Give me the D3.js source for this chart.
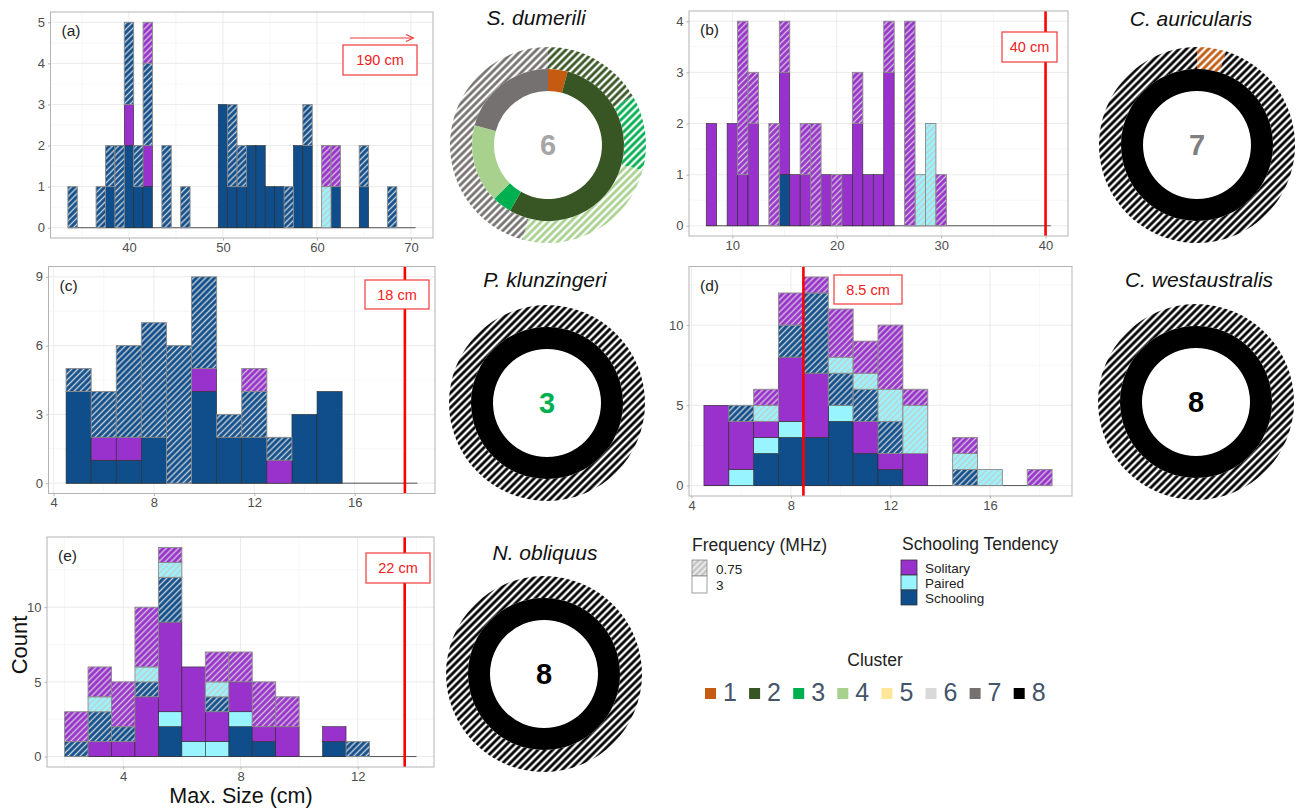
<!DOCTYPE html>
<html>
<head>
<meta charset="utf-8">
<script src="https://cdn.jsdelivr.net/npm/d3@7"></script>
<style>
  body { margin: 0; background: #fff; }
  svg { display: block; font-family: "Liberation Sans", Arial, sans-serif; }
</style>
</head>
<body>
<script>
// bin centres + counts per bin, stacked bottom-up:
// solid (3 MHz): schooling, paired, solitary ; hatched (0.75 MHz): schooling, paired, solitary
const aBins        = [34,37,38,39,40,41,42,44,46,50,51,52,53,54,55,56,57,58,59,61,62,65,68];
const aSchool3     = [0,0,1,0,2,1,1,0,0,3,1,1,2,2,1,1,0,2,2,0,1,1,0];
const aPaired3     = [0,0,0,0,0,0,0,0,0,0,0,0,0,0,0,0,0,0,0,0,0,0,0];
const aSolitary3   = [0,0,0,0,1,0,1,0,0,0,0,0,0,0,0,0,0,0,0,0,0,0,0];
const aSchool075   = [1,1,1,2,2,1,2,2,1,0,2,1,0,0,0,0,1,0,1,0,0,1,1];
const aPaired075   = [0,0,0,0,0,0,0,0,0,0,0,0,0,0,0,0,0,0,0,1,0,0,0];
const aSolitary075 = [0,0,0,0,0,0,1,0,0,0,0,0,0,0,0,0,0,0,0,1,1,0,0];

const bBins        = [8,10,11,12,14,15,16,17,18,19,20,21,22,23,24,25,27,28,29,30];
const bSchool3     = [0,0,0,0,0,1,0,0,0,0,0,0,0,0,0,0,0,0,0,0];
const bPaired3     = [0,0,0,0,0,0,0,0,0,0,0,0,0,0,0,0,0,0,0,0];
const bSolitary3   = [2,2,1,2,0,2,1,1,0,1,0,1,2,1,1,3,0,0,0,0];
const bSchool075   = [0,0,0,0,0,0,0,0,0,0,0,0,0,0,0,0,0,0,0,0];
const bPaired075   = [0,0,0,0,0,0,0,0,0,0,0,0,0,0,0,0,0,1,2,0];
const bSolitary075 = [0,0,3,1,2,1,0,1,2,0,1,0,1,0,0,1,4,0,0,1];

const cBins        = [5,6,7,8,9,10,11,12,13,14,15];
const cSchool3     = [4,1,1,2,0,4,2,2,0,3,4];
const cPaired3     = [0,0,0,0,0,0,0,0,0,0,0];
const cSolitary3   = [0,1,1,0,0,1,0,0,1,0,0];
const cSchool075   = [1,2,4,5,6,4,1,2,1,0,0];
const cPaired075   = [0,0,0,0,0,0,0,0,0,0,0];
const cSolitary075 = [0,0,0,0,0,0,0,1,0,0,0];

const dBins        = [5,6,7,8,9,10,11,12,13,15,16,18];
const dSchool3     = [0,0,2,3,3,4,2,1,0,0,0,0];
const dPaired3     = [0,1,1,1,0,1,0,0,0,0,0,0];
const dSolitary3   = [5,3,1,4,4,0,2,1,2,0,0,0];
const dSchool075   = [0,1,0,2,5,2,2,2,0,1,0,0];
const dPaired075   = [0,0,1,0,0,1,1,2,3,1,1,0];
const dSolitary075 = [0,0,1,2,1,3,2,4,1,1,0,1];

const eBins        = [2.4,3.2,4.0,4.8,5.6,6.4,7.2,8.0,8.8,9.6,11.2,12.0];
const eSchool3     = [0,0,0,0,2,0,0,2,1,0,1,0];
const ePaired3     = [0,0,0,0,1,1,1,1,0,0,0,0];
const eSolitary3   = [0,1,1,4,6,5,2,2,1,2,1,0];
const eSchool075   = [1,2,1,1,3,0,1,0,0,0,0,1];
const ePaired075   = [0,1,0,1,1,0,1,0,0,0,0,0];
const eSolitary075 = [2,2,3,4,1,0,2,2,3,2,0,0];

// tick labels
const aXTicks = [40,50,60,70], aYTicks = [0,1,2,3,4,5];
const bXTicks = [10,20,30,40], bYTicks = [0,1,2,3,4];
const cXTicks = [4,8,12,16],   cYTicks = [0,3,6,9];
const dXTicks = [4,8,12,16],   dYTicks = [0,5,10];
const eXTicks = [4,8,12],      eYTicks = [0,5,10];

// max size markers
const maxSizeLabels = ['190 cm','40 cm','18 cm','8.5 cm','22 cm'];
const maxSizeLines  = [null, 40, 18, 8.5, 13.6];

// donuts: cluster composition (inner = 3 MHz, outer = 0.75 MHz)
const speciesNames   = ['S. dumerili','C. auricularis','P. klunzingeri','C. westaustralis','N. obliquus'];
const speciesCluster = [6,7,3,8,8];
const dumeriliInnerCl = [1,2,3,4,7],  dumeriliInnerN = [1,13,1,4,5];
const dumeriliOuterCl = [2,3,4,7],    dumeriliOuterN = [4,3,6,11];
const auricInnerCl = [8], auricInnerN = [21];
const auricOuterCl = [1,8], auricOuterN = [1,20];
const singleCl = [8], singleN = [1];

const clusterIds    = [1,2,3,4,5,6,7,8];
const clusterColors = ['#c55a11','#375623','#00b050','#a9d18e','#ffe699','#d9d9d9','#767171','#000000'];
const numberColors  = {3:'#00b050', 6:'#a6a6a6', 7:'#7f7f7f', 8:'#000000'};

const tendencyNames  = ['Solitary','Paired','Schooling'];
const tendencyColors = ['#9932cc','#98f5ff','#104e8b'];
const freqLabels = ['0.75','3'];

const W = 1299, H = 809;
const FONT = '"Liberation Sans", Arial, sans-serif';
const svg = d3.select('body').append('svg').attr('width', W).attr('height', H);
const defs = svg.append('defs');

function stripes(id, base, stripe, period, lw) {
  const p = defs.append('pattern').attr('id', id)
    .attr('patternUnits', 'userSpaceOnUse')
    .attr('width', period).attr('height', period)
    .attr('patternTransform', 'rotate(45)');
  p.append('rect').attr('width', period).attr('height', period).attr('fill', base);
  p.append('line').attr('x1', period / 2).attr('x2', period / 2)
    .attr('y1', -1).attr('y2', period + 1)
    .attr('stroke', stripe).attr('stroke-width', lw);
}

// bar hatches
stripes('bh-school', '#104e8b', '#c9cfd6', 4.3, 1.4);
stripes('bh-paired', '#98f5ff', '#c8c8c8', 4.3, 1.4);
stripes('bh-solitary', '#9932cc', '#d2c4da', 4.3, 1.4);
stripes('lg-hatch', '#c4c4c4', '#f2f2f2', 4.3, 1.6);
// donut hatches
clusterColors.forEach((c, i) => stripes('dh-' + clusterIds[i], '#ffffff', c, 5.2, 2.8));

const keyFill = ['#104e8b', '#98f5ff', '#9932cc', 'url(#bh-school)', 'url(#bh-paired)', 'url(#bh-solitary)'];
const keys = ['school3', 'paired3', 'solitary3', 'school075', 'paired075', 'solitary075'];

const panels = [
  { label: '(a)', bins: aBins, bw: 1, series: [aSchool3, aPaired3, aSolitary3, aSchool075, aPaired075, aSolitary075],
    left: 50.5, top: 12, right: 433, bottom: 238, xDom: [31.65, 72.35], yDom: [-0.25, 5.25],
    xTicks: aXTicks, yTicks: aYTicks, span: [33.5, 70.5], box: [343, 45, 74, 30] },
  { label: '(b)', bins: bBins, bw: 1, series: [bSchool3, bPaired3, bSolitary3, bSchool075, bPaired075, bSolitary075],
    left: 689, top: 11, right: 1068, bottom: 236, xDom: [5.85, 42.15], yDom: [-0.2, 4.2],
    xTicks: bXTicks, yTicks: bYTicks, span: [7.5, 40.5], box: [1002, 32, 55, 30] },
  { label: '(c)', bins: cBins, bw: 1, series: [cSchool3, cPaired3, cSolitary3, cSchool075, cPaired075, cSolitary075],
    left: 48.5, top: 266.5, right: 435, bottom: 493.5, xDom: [3.8, 19.2], yDom: [-0.45, 9.45],
    xTicks: cXTicks, yTicks: cYTicks, span: [4.5, 18.5], box: [365, 280, 64, 29] },
  { label: '(d)', bins: dBins, bw: 1, series: [dSchool3, dPaired3, dSolitary3, dSchool075, dPaired075, dSolitary075],
    left: 689, top: 266.5, right: 1072, bottom: 496, xDom: [3.9, 19.3], yDom: [-0.65, 13.65],
    xTicks: dXTicks, yTicks: dYTicks, span: [4.5, 18.5], box: [834, 275, 68, 29] },
  { label: '(e)', bins: eBins, bw: 0.8, series: [eSchool3, ePaired3, eSolitary3, eSchool075, ePaired075, eSolitary075],
    left: 47, top: 537, right: 434, bottom: 767, xDom: [1.4, 14.6], yDom: [-0.7, 14.7],
    xTicks: eXTicks, yTicks: eYTicks, span: [2.0, 14.0], box: [366, 553, 64, 30] }
];

function minorTicks(ticks, dom) {
  const step = ticks[1] - ticks[0];
  let v = ticks[0] - step / 2;
  while (v - step >= dom[0]) v -= step;
  const out = [];
  for (; v <= dom[1]; v += step) if (v >= dom[0]) out.push(v);
  return out;
}

panels.forEach((p, pi) => {
  const x = d3.scaleLinear().domain(p.xDom).range([p.left, p.right]);
  const y = d3.scaleLinear().domain(p.yDom).range([p.bottom, p.top]);
  const g = svg.append('g');

  // grid
  const grid = g.append('g');
  minorTicks(p.xTicks, p.xDom).forEach(v => grid.append('line')
    .attr('x1', x(v)).attr('x2', x(v)).attr('y1', p.top).attr('y2', p.bottom)
    .attr('stroke', '#f2f2f2').attr('stroke-width', 0.6));
  minorTicks(p.yTicks, p.yDom).forEach(v => grid.append('line')
    .attr('x1', p.left).attr('x2', p.right).attr('y1', y(v)).attr('y2', y(v))
    .attr('stroke', '#f2f2f2').attr('stroke-width', 0.6));
  p.xTicks.forEach(v => grid.append('line')
    .attr('x1', x(v)).attr('x2', x(v)).attr('y1', p.top).attr('y2', p.bottom)
    .attr('stroke', '#e6e6e6').attr('stroke-width', 0.8));
  p.yTicks.forEach(v => grid.append('line')
    .attr('x1', p.left).attr('x2', p.right).attr('y1', y(v)).attr('y2', y(v))
    .attr('stroke', '#e6e6e6').attr('stroke-width', 0.8));

  // zero-count bins show as a baseline
  g.append('line').attr('x1', x(p.span[0])).attr('x2', x(p.span[1]))
    .attr('y1', y(0)).attr('y2', y(0)).attr('stroke', '#555').attr('stroke-width', 1);

  // stacked bars
  const rows = p.bins.map((b, i) => {
    const r = { x: b };
    keys.forEach((k, ki) => { r[k] = p.series[ki][i]; });
    return r;
  });
  const stacked = d3.stack().keys(keys)(rows);
  stacked.forEach((layer, li) => {
    g.append('g').selectAll('rect')
      .data(layer.filter(d => d[1] - d[0] > 0))
      .join('rect')
      .attr('x', d => x(d.data.x - p.bw / 2))
      .attr('width', d => x(d.data.x + p.bw / 2) - x(d.data.x - p.bw / 2))
      .attr('y', d => y(d[1]))
      .attr('height', d => y(d[0]) - y(d[1]))
      .attr('fill', keyFill[li])
      .attr('stroke', li < 3 ? '#2a2a2a' : '#8a8a8a')
      .attr('stroke-width', li < 3 ? 0.6 : 0.9);
  });

  // max size marker
  const redAt = maxSizeLines[pi];
  if (redAt !== null) {
    g.append('line').attr('x1', x(redAt)).attr('x2', x(redAt))
      .attr('y1', p.top).attr('y2', p.bottom)
      .attr('stroke', '#ff0000').attr('stroke-width', 2.6);
  } else {
    g.append('line').attr('x1', 350).attr('x2', 413).attr('y1', 38).attr('y2', 38)
      .attr('stroke', '#f03a3a').attr('stroke-width', 1.1);
    g.append('path').attr('d', 'M406,34.5 L413.5,38 L406,41.5')
      .attr('fill', 'none').attr('stroke', '#f03a3a').attr('stroke-width', 1.1);
  }
  const [bx, by, bw, bh] = p.box;
  g.append('rect').attr('x', bx).attr('y', by).attr('width', bw).attr('height', bh)
    .attr('fill', '#fff').attr('stroke', '#f03a3a').attr('stroke-width', 1.2);
  g.append('text').attr('x', bx + bw / 2).attr('y', by + bh / 2 + 5)
    .attr('text-anchor', 'middle').attr('font-size', 14.5).attr('fill', '#f02020')
    .text(maxSizeLabels[pi]);

  // panel tag
  g.append('text').attr('x', p.left + 11).attr('y', p.top + 24)
    .attr('font-size', 15.5).attr('fill', '#222').text(p.label);

  // border
  g.append('rect').attr('x', p.left).attr('y', p.top)
    .attr('width', p.right - p.left).attr('height', p.bottom - p.top)
    .attr('fill', 'none').attr('stroke', '#b3b3b3').attr('stroke-width', 1);

  // axes
  const gx = g.append('g').attr('transform', `translate(0,${p.bottom})`)
    .call(d3.axisBottom(x).tickValues(p.xTicks).tickSize(2.5).tickPadding(2).tickFormat(d3.format('d')));
  const gy = g.append('g').attr('transform', `translate(${p.left},0)`)
    .call(d3.axisLeft(y).tickValues(p.yTicks).tickSize(2.5).tickPadding(3).tickFormat(d3.format('d')));
  [gx, gy].forEach(a => {
    a.attr('font-family', FONT).attr('font-size', 13);
    a.select('.domain').remove();
    a.selectAll('line').attr('stroke', '#b3b3b3');
    a.selectAll('text').attr('fill', '#4d4d4d');
  });
});

// axis titles
svg.append('text').attr('transform', 'translate(27,645) rotate(-90)')
  .attr('text-anchor', 'middle').attr('font-size', 22).attr('fill', '#111').text('Count');
svg.append('text').attr('x', 241).attr('y', 803)
  .attr('text-anchor', 'middle').attr('font-size', 21.5).attr('fill', '#111').text('Max. Size (cm)');

// donuts
const donuts = [
  { cx: 548, cy: 145, tx: 536, ty: 25,  inCl: dumeriliInnerCl, inN: dumeriliInnerN, outCl: dumeriliOuterCl, outN: dumeriliOuterN },
  { cx: 1197, cy: 145, tx: 1191, ty: 26, inCl: auricInnerCl, inN: auricInnerN, outCl: auricOuterCl, outN: auricOuterN },
  { cx: 547, cy: 403, tx: 545, ty: 287, inCl: singleCl, inN: singleN, outCl: singleCl, outN: singleN },
  { cx: 1196, cy: 402, tx: 1199, ty: 287, inCl: singleCl, inN: singleN, outCl: singleCl, outN: singleN },
  { cx: 544, cy: 674, tx: 545, ty: 560, inCl: singleCl, inN: singleN, outCl: singleCl, outN: singleN }
];
const pie = d3.pie().sort(null).value(d => d.n);
const arcIn = d3.arc().innerRadius(54).outerRadius(76);
const arcOut = d3.arc().innerRadius(76).outerRadius(98);

donuts.forEach((d, i) => {
  const g = svg.append('g').attr('transform', `translate(${d.cx},${d.cy})`);
  const inner = d.inCl.map((c, k) => ({ c, n: d.inN[k] }));
  const outer = d.outCl.map((c, k) => ({ c, n: d.outN[k] }));
  g.selectAll('path.out').data(pie(outer)).join('path').attr('class', 'out')
    .attr('d', arcOut).attr('fill', s => `url(#dh-${s.data.c})`);
  g.selectAll('path.in').data(pie(inner)).join('path').attr('class', 'in')
    .attr('d', arcIn).attr('fill', s => clusterColors[s.data.c - 1]);
  g.append('text').attr('text-anchor', 'middle').attr('dy', '0.36em')
    .attr('font-size', 29).attr('font-weight', 'bold')
    .attr('fill', numberColors[speciesCluster[i]]).text(speciesCluster[i]);
  svg.append('text').attr('x', d.tx).attr('y', d.ty).attr('text-anchor', 'middle')
    .attr('font-size', 21).attr('font-style', 'italic').attr('fill', '#111')
    .text(speciesNames[i]);
});

// legend: frequency
svg.append('text').attr('x', 692).attr('y', 551).attr('font-size', 17.5).attr('fill', '#222').text('Frequency (MHz)');
svg.append('rect').attr('x', 692).attr('y', 560).attr('width', 15).attr('height', 16)
  .attr('fill', 'url(#lg-hatch)').attr('stroke', '#888').attr('stroke-width', 0.8);
svg.append('rect').attr('x', 692).attr('y', 576).attr('width', 15).attr('height', 17)
  .attr('fill', '#fff').attr('stroke', '#888').attr('stroke-width', 0.8);
freqLabels.forEach((t, i) => svg.append('text').attr('x', 716).attr('y', 574 + i * 16)
  .attr('font-size', 13.5).attr('fill', '#222').text(t));

// legend: schooling tendency
svg.append('text').attr('x', 902).attr('y', 550).attr('font-size', 17.5).attr('fill', '#222').text('Schooling Tendency');
tendencyNames.forEach((t, i) => {
  svg.append('rect').attr('x', 901).attr('y', 560 + i * 15).attr('width', 16).attr('height', 15)
    .attr('fill', tendencyColors[i]).attr('stroke', '#333').attr('stroke-width', 0.8);
  svg.append('text').attr('x', 925).attr('y', 573 + i * 15)
    .attr('font-size', 13.5).attr('fill', '#222').text(t);
});

// legend: cluster
svg.append('text').attr('x', 875).attr('y', 666).attr('text-anchor', 'middle')
  .attr('font-size', 17.5).attr('fill', '#222').text('Cluster');
clusterIds.forEach((c, i) => {
  const x0 = 705 + i * 44.1;
  svg.append('rect').attr('x', x0).attr('y', 688).attr('width', 11).attr('height', 11)
    .attr('fill', clusterColors[i]);
  svg.append('text').attr('x', x0 + 18).attr('y', 701)
    .attr('font-size', 25).attr('fill', '#44546a').text(c);
});
</script>
</body>
</html>
